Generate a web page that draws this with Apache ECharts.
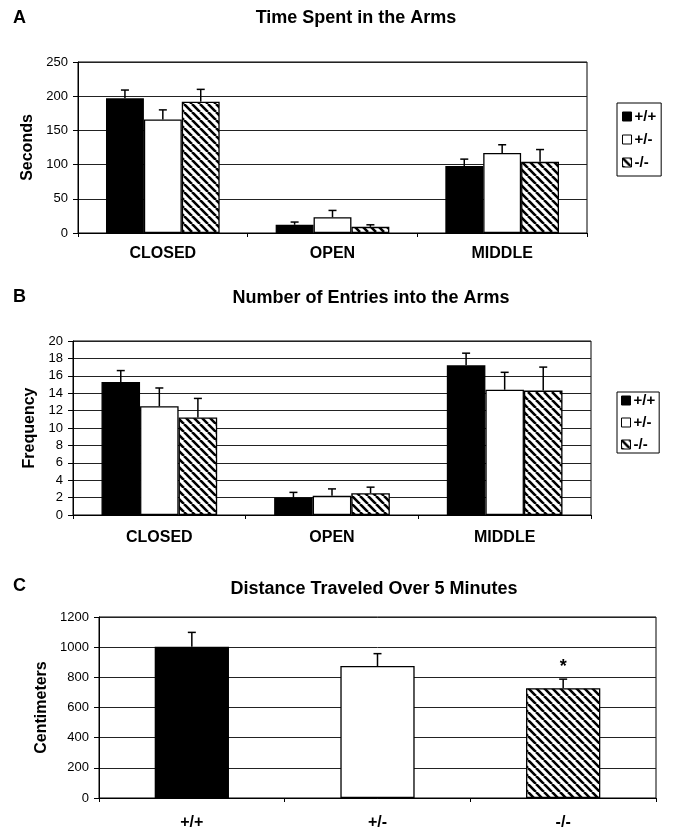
<!DOCTYPE html>
<html><head><meta charset="utf-8">
<script src="https://cdn.jsdelivr.net/npm/echarts@6/dist/echarts.min.js"></script>
<style>html,body{margin:0;padding:0;background:#fff}#c{width:675px;height:831px}</style>
</head><body><div id="c"></div>
<script>
// ---------- data ----------
const armCategories = ['CLOSED', 'OPEN', 'MIDDLE'];
const groupNames = ['+/+', '+/-', '-/-'];

const timeWT = [197, 12, 98];
const timeWTErr = [12, 4, 10];
const timeHet = [166, 23, 117];
const timeHetErr = [14, 10, 12];
const timeKO = [192, 9, 104];
const timeKOErr = [18, 3, 18];

const entriesWT = [15.3, 2.0, 17.2];
const entriesWTErr = [1.3, 0.6, 1.4];
const entriesHet = [12.5, 2.2, 14.4];
const entriesHetErr = [2.1, 0.8, 2.0];
const entriesKO = [11.2, 2.5, 14.3];
const entriesKOErr = [2.2, 0.7, 2.7];

const distanceCategories = ['+/+', '+/-', '-/-'];
const distance = [1003, 875, 728];
const distanceErr = [95, 82, 60];
const distanceMarks = ['', '', '*'];

const timeTicks = [0, 250, 50];
const entriesTicks = [0, 20, 2];
const distanceTicks = [0, 1200, 200];

// ---------- styles ----------
const FONT = "'Liberation Sans', Arial, sans-serif";
function makeHatch() {
  const s = 8;
  const c = document.createElement('canvas');
  c.width = s; c.height = s;
  const g = c.getContext('2d');
  g.fillStyle = '#fff'; g.fillRect(0, 0, s, s);
  g.strokeStyle = '#000'; g.lineWidth = 2.6;
  g.beginPath();
  for (let x = -s; x <= s; x += s) { g.moveTo(x, 0); g.lineTo(x + s, s); }
  g.stroke();
  return { image: c, repeat: 'repeat' };
}
const hatch = makeHatch();
const fills = ['#000', '#fff', hatch];

function errRender(offsetIdx, nGroups, gapFrac, marks) {
  return function (params, api) {
    const ci = api.value(0), v = api.value(1), e = api.value(2);
    const band = api.size([1, 0])[0];
    const bw = band * (1 - gapFrac) / nGroups;
    const base = api.coord([ci, v]);
    const top = api.coord([ci, v + e]);
    const x = base[0] + (offsetIdx - (nGroups - 1) / 2) * bw;
    const cap = 4;
    const ch = [
      { type: 'line', shape: { x1: x, y1: base[1], x2: x, y2: top[1] }, style: { stroke: '#000', lineWidth: 1.5 } },
      { type: 'line', shape: { x1: x - cap, y1: top[1], x2: x + cap, y2: top[1] }, style: { stroke: '#000', lineWidth: 1.5 } }
    ];
    if (marks && marks[ci]) {
      ch.push({ type: 'text', style: { text: marks[ci], x: x, y: top[1] - 12, align: 'center', verticalAlign: 'middle', font: 'bold 18px ' + FONT, fill: '#000' } });
    }
    return { type: 'group', children: ch };
  };
}

const grids = [
  { left: 78, top: 62, width: 509, height: 171 },
  { left: 73, top: 341, width: 518, height: 174 },
  { left: 99, top: 617, width: 557, height: 181 }
];

function yAx(gi, ticks, name, gap) {
  return {
    gridIndex: gi, type: 'value', min: ticks[0], max: ticks[1], interval: ticks[2],
    axisLine: { show: true, lineStyle: { color: '#000', width: 1 } },
    axisTick: { show: true, length: 5, lineStyle: { color: '#000' } },
    splitLine: { lineStyle: { color: '#222', width: 1 } },
    axisLabel: { fontSize: 13, color: '#000', margin: 10, fontFamily: FONT, formatter: v => String(v) },
    name: name, nameLocation: 'middle', nameGap: gap,
    nameTextStyle: { fontSize: 16, fontWeight: 'bold', color: '#000', fontFamily: FONT }
  };
}
function xAx(gi, data, margin) {
  return {
    gridIndex: gi, type: 'category', data: data,
    axisLine: { lineStyle: { color: '#000', width: 1 } },
    axisTick: { show: true, length: 4, lineStyle: { color: '#000' } },
    axisLabel: { fontSize: 16, fontWeight: 'bold', color: '#000', margin: margin, fontFamily: FONT }
  };
}

const groupedVals = [
  [timeWT, timeHet, timeKO, timeWTErr, timeHetErr, timeKOErr],
  [entriesWT, entriesHet, entriesKO, entriesWTErr, entriesHetErr, entriesKOErr]
];
const series = [];
groupedVals.forEach((set, gi) => {
  for (let k = 0; k < 3; k++) {
    series.push({
      type: 'bar', name: groupNames[k], xAxisIndex: gi, yAxisIndex: gi,
      data: set[k], barGap: '0%', barCategoryGap: '33%',
      itemStyle: { color: fills[k], borderColor: '#000', borderWidth: 1.3 }
    });
  }
  for (let k = 0; k < 3; k++) {
    series.push({
      type: 'custom', name: 'err' + gi + k, xAxisIndex: gi, yAxisIndex: gi, z: 5,
      renderItem: errRender(k, 3, 0.33, null), clip: false,
      encode: { x: 0, y: 1 },
      data: set[k].map((v, i) => [i, v, set[k + 3][i]])
    });
  }
});
series.push({
  type: 'bar', name: 'distance', xAxisIndex: 2, yAxisIndex: 2, barWidth: '40%',
  data: distance.map((v, i) => ({ value: v, itemStyle: { color: fills[i], borderColor: '#000', borderWidth: 1.3 } }))
});
series.push({
  type: 'custom', name: 'distErr', xAxisIndex: 2, yAxisIndex: 2, z: 5,
  renderItem: errRender(0, 1, 0.6, distanceMarks), clip: false,
  encode: { x: 0, y: 1 },
  data: distance.map((v, i) => [i, v, distanceErr[i]])
});

function legendAt(top, pad, gap) {
  return {
    data: groupNames, orient: 'vertical', left: 617, top: top, icon: 'rect',
    borderColor: '#000', borderWidth: 1, padding: pad, itemGap: gap,
    itemWidth: 9, itemHeight: 9, itemStyle: { borderColor: '#000', borderWidth: 1 },
    selectedMode: false,
    textStyle: { fontSize: 15, fontWeight: 'bold', color: '#000', fontFamily: FONT, padding: [0, 0, 0, -2] }
  };
}

const titleStyle = { fontSize: 18, fontWeight: 'bold', color: '#000', fontFamily: FONT };
const option = {
  animation: false,
  textStyle: { fontFamily: FONT },
  title: [
    { text: 'A', left: 13, top: 9, padding: 0, textStyle: titleStyle },
    { text: 'Time Spent in the Arms', left: 356, top: 9, padding: 0, textAlign: 'center', textStyle: titleStyle },
    { text: 'B', left: 13, top: 288, padding: 0, textStyle: titleStyle },
    { text: 'Number of Entries into the Arms', left: 371, top: 289, padding: 0, textAlign: 'center', textStyle: titleStyle },
    { text: 'C', left: 13, top: 577, padding: 0, textStyle: titleStyle },
    { text: 'Distance Traveled Over 5 Minutes', left: 374, top: 580, padding: 0, textAlign: 'center', textStyle: titleStyle }
  ],
  legend: [legendAt(103, [6, 5], 8), legendAt(392, [1, 4], 7)],
  grid: grids.map(g => Object.assign({ show: true, borderColor: '#000', borderWidth: 1, backgroundColor: 'transparent' }, g)),
  xAxis: [xAx(0, armCategories, 13), xAx(1, armCategories, 15), xAx(2, distanceCategories, 17)],
  yAxis: [yAx(0, timeTicks, 'Seconds', 38), yAx(1, entriesTicks, 'Frequency', 28), yAx(2, distanceTicks, 'Centimeters', 46)],
  series: series
};
const chart = echarts.init(document.getElementById('c'), null, { renderer: 'canvas' });
chart.setOption(option);
</script></body></html>
